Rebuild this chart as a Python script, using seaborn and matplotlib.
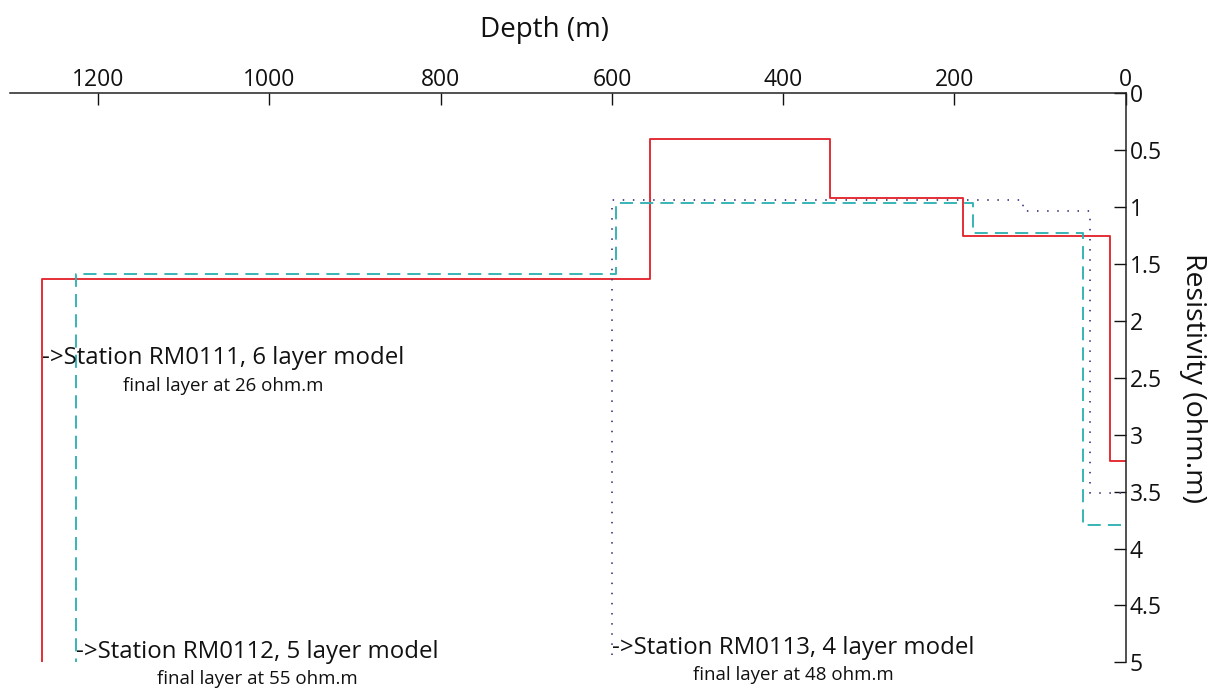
import matplotlib
matplotlib.use("Agg")
import matplotlib.pyplot as plt
from matplotlib.ticker import FuncFormatter
import numpy as np
import pandas as pd
import seaborn as sns

# Layered resistivity models: layer top depths (m), the last entry being the
# top of the half-space, and the resistivity of each finite layer.
red_depth = [0, 18, 190, 345, 556, 1266]
red_res = [3.23, 1.25, 0.92, 0.40, 1.63]

cyan_depth = [6, 50, 178, 595, 1226]
cyan_res = [3.79, 1.23, 0.965, 1.59]

dot_depth = [6, 42, 120, 600]
dot_res = [3.51, 1.035, 0.935]

stations = ["RM0111", "RM0112", "RM0113"]
layer_counts = [6, 5, 4]
final_res = [26, 55, 48]

depth_ticks = [0, 200, 400, 600, 800, 1000, 1200]
res_ticks = [0, 0.5, 1, 1.5, 2, 2.5, 3, 3.5, 4, 4.5, 5]

DEPTH_MAX = 1303
RES_MAX = 5


def step_vertices(tops, values, bottom):
    xs, ys = [], []
    for i, v in enumerate(values):
        xs += [tops[i], tops[i + 1]]
        ys += [v, v]
    xs.append(tops[-1])
    ys.append(bottom)
    return xs, ys


frames = []
for name, tops, vals in zip(stations,
                            [red_depth, cyan_depth, dot_depth],
                            [red_res, cyan_res, dot_res]):
    xs, ys = step_vertices(tops, vals, RES_MAX)
    frames.append(pd.DataFrame({"depth": xs, "res": ys, "station": name}))
df = pd.concat(frames, ignore_index=True)

sns.set_style("white")
plt.rcParams["font.family"] = ["Open Sans", "DejaVu Sans"]

fig = plt.figure(figsize=(12.19, 6.89), dpi=100)
ax = fig.add_axes([10 / 1219, 1 - 662.3 / 689, 1115.7 / 1219, 569 / 689])

palette = {"RM0111": "#e3262d", "RM0112": "#30b2b2", "RM0113": "#4a4a8c"}
dashes = {"RM0111": "", "RM0112": (7, 3.8), "RM0113": (0.8, 4.6)}

sns.lineplot(data=df, x="depth", y="res", hue="station", style="station",
             palette=palette, dashes=dashes, sort=False, estimator=None,
             units="station", linewidth=1.35, legend=False, ax=ax)

ax.set_xlim(DEPTH_MAX, 0)
ax.set_ylim(RES_MAX, 0)

for side in ["left", "bottom"]:
    ax.spines[side].set_visible(False)
for side in ["top", "right"]:
    ax.spines[side].set_color("#222222")
    ax.spines[side].set_linewidth(1.1)

ax.xaxis.tick_top()
ax.yaxis.tick_right()
ax.set_xticks(depth_ticks)
ax.set_yticks(res_ticks)
ax.yaxis.set_major_formatter(FuncFormatter(lambda v, p: f"{v:g}"))
ax.tick_params(axis="x", direction="in", length=8.5, width=1.0, pad=1,
               labelsize=16.5, colors="#111111")
ax.tick_params(axis="y", direction="in", length=9, width=1.0, pad=3,
               labelsize=16.5, colors="#111111")

ax.xaxis.set_label_position("top")
ax.set_xlabel("Depth (m)", fontsize=20, color="#111111")
ax.xaxis.set_label_coords(0.4795, 1.111)
ax.xaxis.label.set_va("center")

ax.yaxis.set_label_position("right")
ax.set_ylabel("Resistivity (ohm.m)", fontsize=20.5, rotation=-90,
              color="#111111")
ax.yaxis.set_label_coords(1.0603, 0.5)
ax.yaxis.label.set_va("center")
ax.yaxis.label.set_ha("center")

# Station captions, anchored at the top of each model's half-space
label_pos = [2.33, 4.91, 4.87]
for name, n, fr, tops, yv in zip(stations, layer_counts, final_res,
                                 [red_depth, cyan_depth, dot_depth],
                                 label_pos):
    t = ax.text(tops[-1], yv, f"->Station {name}, {n} layer model",
                fontsize=17.3, ha="left", va="center", color="#111111")
    ax.annotate(f"final layer at {fr} ohm.m", xy=(0.5, 0), xycoords=t,
                xytext=(0, -4.5), textcoords="offset points",
                ha="center", va="top", fontsize=13.5, color="#111111")

fig.savefig("out.png", dpi=100)
